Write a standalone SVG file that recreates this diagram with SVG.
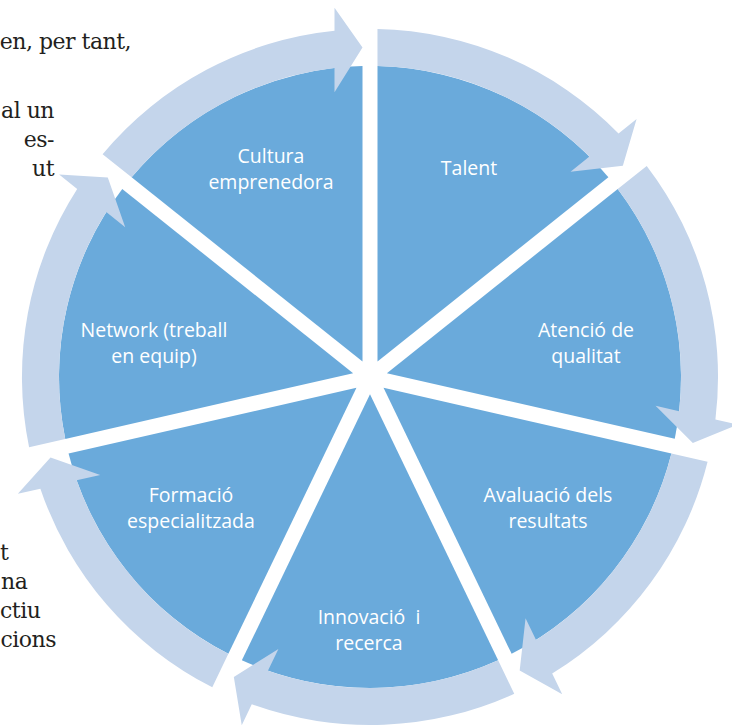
<svg xmlns="http://www.w3.org/2000/svg" xmlns:xlink="http://www.w3.org/1999/xlink" width="732" height="728" viewBox="0 0 732 728">
<style>
.page{font-family:"DejaVu Serif","Liberation Serif",serif;font-size:22px;letter-spacing:-0.5px;fill:#231f20;text-anchor:end}
.pagel{font-family:"DejaVu Serif","Liberation Serif",serif;font-size:22px;letter-spacing:-0.5px;fill:#231f20;text-anchor:start}
.seg{fill:#6aaadb}
.arr{fill:#c4d5eb}
.lbl{font-family:"Open Sans","Noto Sans",sans-serif;font-size:19.5px;fill:#ffffff;text-anchor:middle}
</style>
<defs>
<path id="wedge" d="M -7.5 -15.6 L -238.4 -199.7 A 311 311 0 0 1 -7.5 -310.9 Z"/>
<path id="arrow" d="M -238.4 -199.7 L -267.4 -222.8 A 348 348 0 0 1 -35.5 -346.2 L -35.5 -369.3 L -7.5 -329.4 L -35.5 -284.8 L -35.5 -309.0 A 311 311 0 0 0 -238.4 -199.7 Z"/>
</defs>
<rect width="732" height="728" fill="#ffffff"/>
<g id="page-text">
<text class="page" x="131" y="49">en, per tant,</text>
<text class="page" x="54" y="118">al un</text>
<text class="page" x="54" y="147">es-</text>
<text class="page" x="54" y="176">ut</text>
<text class="pagel" x="0" y="560">t</text>
<text class="pagel" x="1" y="589">na</text>
<text class="pagel" x="0" y="618">ctiu</text>
<text class="page" x="56" y="647">cions</text>
</g>
<g id="node-cultura">
<use xlink:href="#wedge" class="seg" transform="translate(370 377)"/>
<text class="lbl" x="271" y="163">Cultura</text>
<text class="lbl" x="271" y="189">emprenedora</text>
</g>
<g id="node-talent">
<use xlink:href="#wedge" class="seg" transform="translate(370 377) rotate(51.4286)"/>
<text class="lbl" x="469" y="175">Talent</text>
</g>
<g id="node-atencio">
<use xlink:href="#wedge" class="seg" transform="translate(370 377) rotate(102.8571)"/>
<text class="lbl" x="586" y="337">Atenció de</text>
<text class="lbl" x="586" y="363">qualitat</text>
</g>
<g id="node-avaluacio">
<use xlink:href="#wedge" class="seg" transform="translate(370 377) rotate(154.2857)"/>
<text class="lbl" x="548" y="502">Avaluació dels</text>
<text class="lbl" x="548" y="528">resultats</text>
</g>
<g id="node-innovacio">
<use xlink:href="#wedge" class="seg" transform="translate(370 377) rotate(205.7143)"/>
<text class="lbl" x="369" y="624" style="white-space:pre" xml:space="preserve">Innovació  i</text>
<text class="lbl" x="369" y="650">recerca</text>
</g>
<g id="node-formacio">
<use xlink:href="#wedge" class="seg" transform="translate(370 377) rotate(257.1429)"/>
<text class="lbl" x="191" y="502">Formació</text>
<text class="lbl" x="191" y="528">especialitzada</text>
</g>
<g id="node-network">
<use xlink:href="#wedge" class="seg" transform="translate(370 377) rotate(308.5714)"/>
<text class="lbl" x="154" y="337">Network (treball</text>
<text class="lbl" x="154" y="363">en equip)</text>
</g>
<g id="connectors">
<use xlink:href="#arrow" class="arr" transform="translate(370 377)"/>
<use xlink:href="#arrow" class="arr" transform="translate(370 377) rotate(51.4286)"/>
<use xlink:href="#arrow" class="arr" transform="translate(370 377) rotate(102.8571)"/>
<use xlink:href="#arrow" class="arr" transform="translate(370 377) rotate(154.2857)"/>
<use xlink:href="#arrow" class="arr" transform="translate(370 377) rotate(205.7143)"/>
<use xlink:href="#arrow" class="arr" transform="translate(370 377) rotate(257.1429)"/>
<use xlink:href="#arrow" class="arr" transform="translate(370 377) rotate(308.5714)"/>
</g>
</svg>
